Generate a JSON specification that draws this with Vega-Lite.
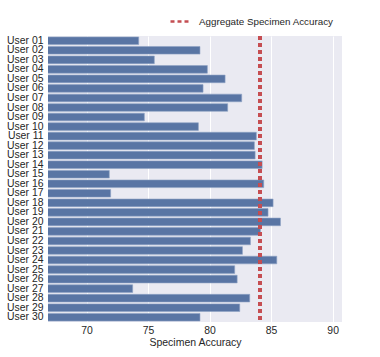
{
  "$schema": "https://vega.github.io/schema/vega-lite/v6.json",
  "autosize": "none",
  "width": 294,
  "height": 286,
  "padding": {"left": 48, "top": 36, "right": 38, "bottom": 35},
  "background": "white",
  "config": {
    "view": {"fill": "#EAEAF2", "stroke": null},
    "font": "Liberation Sans",
    "axis": {"labelColor": "#262626", "titleColor": "#262626", "labelFont": "Liberation Sans", "titleFont": "Liberation Sans"}
  },
  "data": {
    "values": [
      {"user": "User 01", "acc": 74.24},
      {"user": "User 02", "acc": 79.22},
      {"user": "User 03", "acc": 75.51},
      {"user": "User 04", "acc": 79.82},
      {"user": "User 05", "acc": 81.26},
      {"user": "User 06", "acc": 79.47},
      {"user": "User 07", "acc": 82.61},
      {"user": "User 08", "acc": 81.47},
      {"user": "User 09", "acc": 74.70},
      {"user": "User 10", "acc": 79.09},
      {"user": "User 11", "acc": 83.80},
      {"user": "User 12", "acc": 83.64},
      {"user": "User 13", "acc": 83.70},
      {"user": "User 14", "acc": 84.27},
      {"user": "User 15", "acc": 71.85},
      {"user": "User 16", "acc": 84.40},
      {"user": "User 17", "acc": 71.96},
      {"user": "User 18", "acc": 85.16},
      {"user": "User 19", "acc": 84.75},
      {"user": "User 20", "acc": 85.76},
      {"user": "User 21", "acc": 84.13},
      {"user": "User 22", "acc": 83.32},
      {"user": "User 23", "acc": 82.67},
      {"user": "User 24", "acc": 85.46},
      {"user": "User 25", "acc": 82.04},
      {"user": "User 26", "acc": 82.24},
      {"user": "User 27", "acc": 73.75},
      {"user": "User 28", "acc": 83.26},
      {"user": "User 29", "acc": 82.45},
      {"user": "User 30", "acc": 79.22}
    ]
  },
  "layer": [
    {
      "mark": {"type": "bar", "color": "#5975A4", "stroke": "#8FA3C4", "strokeWidth": 0.6, "clip": true},
      "encoding": {
        "y": {
          "field": "user", "type": "nominal", "sort": null,
          "scale": {"paddingInner": 0.2, "paddingOuter": 0.1},
          "axis": {"title": null, "domain": false, "ticks": false, "labelPadding": 5, "labelFontSize": 10.4, "grid": false}
        },
        "x": {
          "field": "acc", "type": "quantitative",
          "scale": {"domain": [66.87, 90.76], "zero": false, "nice": false},
          "axis": {
            "title": "Specimen Accuracy", "titleFontSize": 10.5, "titleFontWeight": "normal", "titlePadding": 2,
            "values": [70, 75, 80, 85, 90], "labelFontSize": 10.4, "labelPadding": 3,
            "domain": false, "ticks": false, "grid": true, "gridColor": "white", "gridWidth": 1
          }
        }
      }
    },
    {
      "mark": {"type": "rule", "strokeWidth": 2.5, "strokeDash": [3.5, 3.5]},
      "encoding": {
        "x": {"datum": 84.1},
        "color": {
          "datum": "Aggregate Specimen Accuracy",
          "type": "nominal",
          "scale": {"range": ["#C44E52"]},
          "legend": {
            "title": null, "orient": "none", "legendX": 121, "legendY": -26,
            "symbolType": "stroke", "symbolSize": 400, "symbolStrokeWidth": 2.5, "symbolDash": [4, 3],
            "labelFontSize": 9.8, "labelColor": "#262626", "labelOffset": 7, "padding": 0
          }
        }
      }
    }
  ]
}
